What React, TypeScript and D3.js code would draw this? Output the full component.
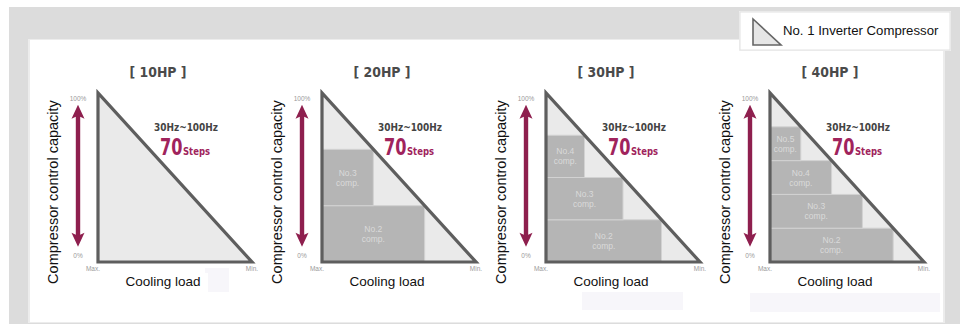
import React from "react";
import * as d3 from "d3";

// ---- data ----
const panelTitles = ["[ 10HP ]", "[ 20HP ]", "[ 30HP ]", "[ 40HP ]"];
// fixed-speed compressors stacked from the bottom (capacity 0) upwards
const fixedCompressors: string[][] = [
  [],
  ["No.2", "No.3"],
  ["No.2", "No.3", "No.4"],
  ["No.2", "No.3", "No.4", "No.5"],
];
const frequencyRange = "30Hz~100Hz";
const stepCount = "70";
const stepUnit = "Steps";
const capacityTicks = [
  { value: 0.97, label: "100%" },
  { value: 0.04, label: "0%" },
];
const loadTicks = [
  { value: 0, label: "Max." },
  { value: 1, label: "Min." },
];
const yAxisTitle = "Compressor control capacity";
const xAxisTitle = "Cooling load";
const legendLabel = "No. 1 Inverter Compressor";
const compSuffix = "comp.";

// ---- style ----
const W = 960;
const H = 326;
const BG = "#dcdcdc";
const TRI_FILL = "#eaeaea";
const TRI_STROKE = "#5e5e5e";
const COMP_FILL = "#b5b5b5";
const COMP_TEXT = "#dadada";
const CRIMSON = "#8e1f4e";
const MAGENTA = "#a0235c";
const FAINT = "#f7f6fa";
const SANS = "Liberation Sans, Arial, sans-serif";
const NARROW = "Liberation Sans Narrow, Arial Narrow, DejaVu Sans Condensed, sans-serif";

const TRI = 154;
const panelX = d3.scaleLinear().domain([0, panelTitles.length - 1]).range([98, 770]);
const capY = d3.scaleLinear().domain([0, 1]).range([262, 93]);

function Arrow({ x, y0, y1 }: { x: number; y0: number; y1: number }) {
  const hw = 6.5, sw = 2.2, hl = 14;
  const p = d3.path();
  p.moveTo(x, y1);
  p.lineTo(x + hw, y1 + hl);
  p.lineTo(x + sw, y1 + hl - 2);
  p.lineTo(x + sw, y0 - hl + 2);
  p.lineTo(x + hw, y0 - hl);
  p.lineTo(x, y0);
  p.lineTo(x - hw, y0 - hl);
  p.lineTo(x - sw, y0 - hl + 2);
  p.lineTo(x - sw, y1 + hl - 2);
  p.lineTo(x - hw, y1 + hl);
  p.closePath();
  return <path d={p.toString()} fill={CRIMSON} />;
}

function Panel({ i }: { i: number }) {
  const L = panelX(i);
  const x = d3.scaleLinear().domain([0, 1]).range([L, L + TRI]);
  const comps = fixedCompressors[i];
  const segs = comps.length + 1;
  const tri = d3.line<[number, number]>()
    .x((d) => x(d[0]))
    .y((d) => capY(d[1]))([[0, 1], [0, 0], [1, 0]]) + "Z";
  return (
    <g>
      <text x={L + 60} y={77} textAnchor="middle" fontFamily={NARROW} fontWeight="bold"
        fontSize={14} fill="#4a4a4a" textLength={57} lengthAdjust="spacingAndGlyphs">
        {panelTitles[i]}
      </text>
      <text transform={`translate(${L - 45},${192}) rotate(-90)`} textAnchor="middle"
        dominantBaseline="central" fontFamily={SANS} fontSize={14.5} fill="#111">
        {yAxisTitle}
      </text>
      {capacityTicks.map((t) => (
        <text key={t.label} x={L - 20} y={capY(t.value) + 2.5} textAnchor="middle"
          fontFamily={SANS} fontSize={6.5} fill="#9a9a9a">
          {t.label}
        </text>
      ))}
      <Arrow x={L - 20} y0={capY(0.09)} y1={capY(0.93)} />
      <path d={tri} fill={TRI_FILL} />
      {comps.map((name, j) => {
        const c0 = j / segs;
        const c1 = (j + 1) / segs;
        const x0 = x(0);
        const x1 = x(1 - c1);
        const yTop = capY(c1);
        const yBot = capY(c0);
        const cx = (x0 + x1) / 2;
        const cy = (yTop + yBot) / 2;
        return (
          <g key={name}>
            <rect x={x0} y={yTop} width={x1 - x0} height={yBot - yTop} fill={COMP_FILL}
              stroke="#d2d2d2" strokeWidth={1} />
            <text x={cx} y={cy - 2} textAnchor="middle" fontFamily={SANS} fontSize={8.5} fill={COMP_TEXT}>
              {name}
            </text>
            <text x={cx} y={cy + 8} textAnchor="middle" fontFamily={SANS} fontSize={8.5} fill={COMP_TEXT}>
              {compSuffix}
            </text>
          </g>
        );
      })}
      <path d={tri} fill="none" stroke={TRI_STROKE} strokeWidth={3.2} strokeLinejoin="miter" />
      {loadTicks.map((t) => (
        <text key={t.label} x={x(t.value) + (t.value === 0 ? -5 : 0)} y={271} textAnchor="middle"
          fontFamily={SANS} fontSize={6.5} fill="#9a9a9a">
          {t.label}
        </text>
      ))}
      <rect x={L + 22} y={273} width={88} height={19} fill="#ffffff" />
      <text x={L + 65} y={286} textAnchor="middle" fontFamily={SANS} fontSize={13.5} fill="#111">
        {xAxisTitle}
      </text>
      <text x={L + 88} y={131} textAnchor="middle" fontFamily={NARROW} fontWeight="bold"
        fontSize={10} fill="#444" textLength={64} lengthAdjust="spacingAndGlyphs">
        {frequencyRange}
      </text>
      <text transform={`translate(${L + 62},155) scale(0.78,1)`} fontFamily={NARROW}
        fontWeight="bold" fill={MAGENTA} fontSize={23}>
        {stepCount}
      </text>
      <text x={L + 85} y={155} fontFamily={NARROW} fontWeight="bold" fill={MAGENTA} fontSize={11}
        textLength={27} lengthAdjust="spacingAndGlyphs">
        {stepUnit}
      </text>
    </g>
  );
}

export default function App() {
  const legendTri = d3.line()([[753, 19], [753, 45], [781, 45]]) + "Z";
  return (
    <svg width={W} height={H} style={{ position: "absolute", left: 0, top: 0 }}>
      <rect x={0} y={0} width={W} height={H} fill="#ffffff" />
      <rect x={9} y={7} width={W - 9} height={317} fill={BG} />
      <rect x={28} y={39} width={917} height={284} fill="#ececec" />
      <rect x={30} y={40} width={913} height={282} fill="#ffffff" />
      <rect x={205} y={268} width={24} height={24} fill={FAINT} />
      <rect x={582} y={292} width={101} height={18} fill={FAINT} />
      <rect x={750} y={293} width={190} height={19} fill={FAINT} />
      {panelTitles.map((_, i) => (
        <Panel key={i} i={i} />
      ))}
      <rect x={739} y={11} width={212} height={40} fill="#f2f2f2" />
      <rect x={740} y={12} width={210} height={38} fill="#ffffff" stroke="#e2e2e2" />
      <path d={legendTri} fill="#e6e6e6" stroke="#666" strokeWidth={1.6} />
      <text x={783} y={35} fontFamily={SANS} fontSize={13.2} fill="#111">
        {legendLabel}
      </text>
    </svg>
  );
}
